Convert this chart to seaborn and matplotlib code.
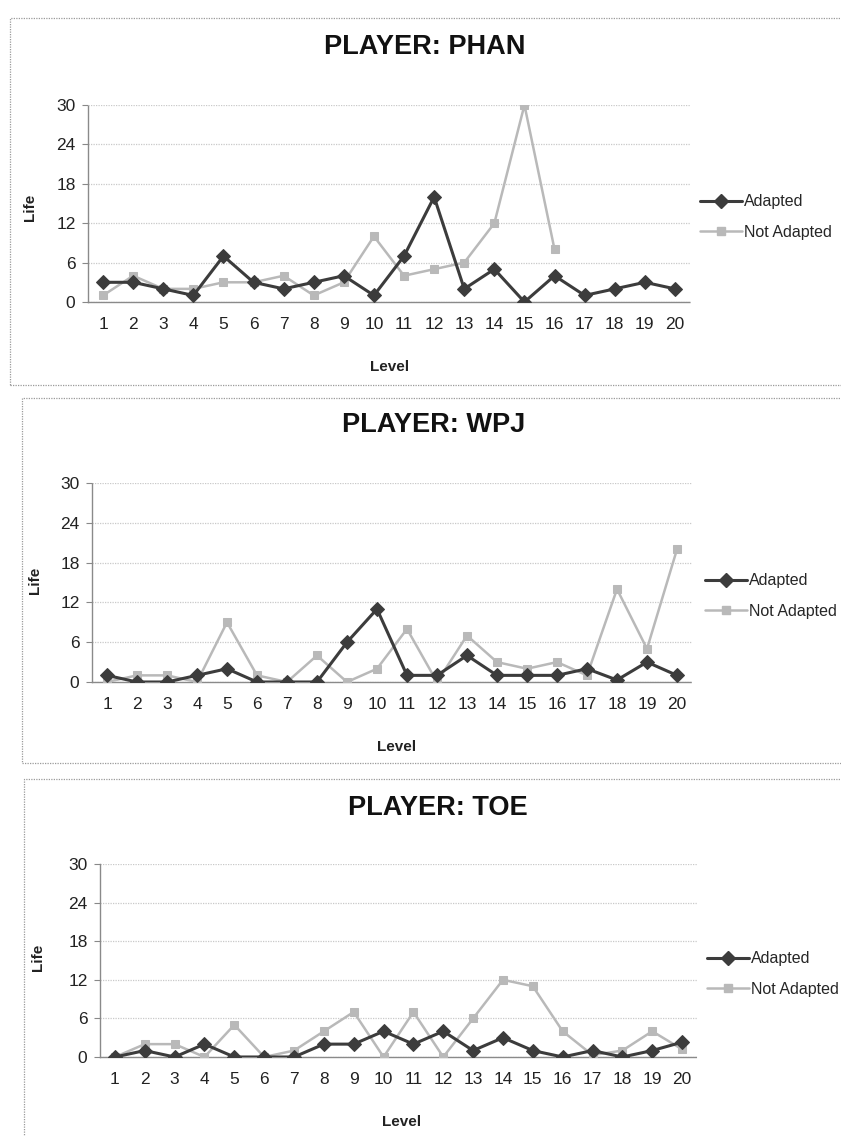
import numpy as np
import pandas as pd
import matplotlib
matplotlib.use("Agg")
import matplotlib.pyplot as plt
from matplotlib import font_manager
from matplotlib.lines import Line2D
from matplotlib.patches import Rectangle
import seaborn as sns

# ---- data -------------------------------------------------------------
levels = list(range(1, 21))
series_names = ["Adapted", "Not Adapted"]
players = ["PHAN", "WPJ", "TOE"]

phan_adapted = [3, 3, 2, 1, 7, 3, 2, 3, 4, 1, 7, 16, 2, 5, 0, 4, 1, 2, 3, 2]
phan_not_adapted = [1, 4, 2, 2, 3, 3, 4, 1, 3, 10, 4, 5, 6, 12, 30, 8,
                    np.nan, np.nan, np.nan, np.nan]

wpj_adapted = [1, 0, 0, 1, 2, 0, 0, 0, 6, 11, 1, 1, 4, 1, 1, 1, 2, 0.3, 3, 1]
wpj_not_adapted = [0, 1, 1, 0, 9, 1, 0, 4, 0, 2, 8, 0, 7, 3, 2, 3, 1, 14, 5, 20]

toe_adapted = [0, 1, 0, 2, 0, 0, 0, 2, 2, 4, 2, 4, 1, 3, 1, 0, 1, 0, 1, 2.3]
toe_not_adapted = [0, 2, 2, 0, 5, 0, 1, 4, 7, 0, 7, 0, 6, 12, 11, 4, 0.3, 1, 4, 1.2]

y_ticks = [0, 6, 12, 18, 24, 30]

# ---- styling ----------------------------------------------------------
sns.set_theme(style="white")


def pick_font(candidates):
    names = {f.name for f in font_manager.fontManager.ttflist}
    for c in candidates:
        if c in names:
            return c
    return "DejaVu Sans"


body_font = pick_font(["Liberation Sans Narrow", "Liberation Sans", "DejaVu Sans"])
plt.rcParams["font.family"] = [body_font, "DejaVu Sans"]

DARK = "#3c3c3c"
LIGHT = "#b9b9b9"
GRID = "#c9c9c9"
BORDER = "#9a9a9a"

W, H = 841, 1136
fig = plt.figure(figsize=(W / 100, H / 100), dpi=100)
fig.patch.set_facecolor("white")


def fig_rect(x0, y0, x1, y1):
    return [x0 / W, 1 - y1 / H, (x1 - x0) / W, (y1 - y0) / H]


# pixel layout of each chart block
panels = [
    dict(name="PHAN", data=(phan_adapted, phan_not_adapted),
         border=(10, 18, 900, 385), plot=(88, 105, 690, 302),
         title=(425, 47), level=(390, 367), life=(30, 207), legend=(700, 217)),
    dict(name="WPJ", data=(wpj_adapted, wpj_not_adapted),
         border=(22, 398, 900, 763), plot=(92, 483, 692, 682),
         title=(434, 425), level=(397, 747), life=(35, 580), legend=(705, 596)),
    dict(name="TOE", data=(toe_adapted, toe_not_adapted),
         border=(24, 779, 900, 1180), plot=(100, 864, 697, 1057),
         title=(438, 808), level=(402, 1122), life=(38, 957), legend=(707, 974)),
]

for p in panels:
    bx0, by0, bx1, by1 = p["border"]
    fig.patches.append(Rectangle((bx0 / W, 1 - by1 / H), (bx1 - bx0) / W,
                                 (by1 - by0) / H, transform=fig.transFigure,
                                 fill=False, edgecolor=BORDER, linewidth=0.9,
                                 linestyle=(0, (1, 1)), zorder=0))

    px0, py0, px1, py1 = p["plot"]
    ax = fig.add_axes(fig_rect(px0, py0, px1, py1))
    ax.set_facecolor("none")

    adapted, not_adapted = p["data"]
    df = pd.DataFrame({
        "Level": levels * 2,
        "Life": list(adapted) + list(not_adapted),
        "Series": [series_names[0]] * 20 + [series_names[1]] * 20,
    })

    sns.lineplot(data=df[df["Series"] == "Not Adapted"], x="Level", y="Life",
                 ax=ax, color=LIGHT, linewidth=1.8, marker="s", markersize=6,
                 markeredgecolor=LIGHT, zorder=3, legend=False)
    sns.lineplot(data=df[df["Series"] == "Adapted"], x="Level", y="Life",
                 ax=ax, color=DARK, linewidth=2.2, marker="D", markersize=7.5,
                 markeredgecolor=DARK, zorder=4, legend=False)

    ax.set_xlim(0.5, 20.5)
    ax.set_ylim(0, 30)
    ax.set_xticks(levels)
    ax.set_yticks(y_ticks)
    ax.tick_params(axis="x", length=0, pad=11, labelsize=12.5, colors="#222222")
    ax.tick_params(axis="y", length=4, width=0.8, color="#888888", pad=5,
                   labelsize=12.5, colors="#222222", left=True)
    ax.yaxis.grid(True, color=GRID, linewidth=0.9, linestyle=(0, (1, 1)))
    ax.xaxis.grid(False)
    for side in ("top", "right"):
        ax.spines[side].set_visible(False)
    for side in ("left", "bottom"):
        ax.spines[side].set_color("#8a8a8a")
        ax.spines[side].set_linewidth(1.0)
        ax.spines[side].set_linestyle((0, (1, 1)))

    # axis titles
    ax.set_xlabel("Level", fontsize=11, fontweight="bold", color="#222222")
    ax.set_ylabel("Life", fontsize=11, fontweight="bold", color="#222222")
    ax.xaxis.label.set_va("center")
    ax.yaxis.label.set_va("center")
    lx, ly = p["level"]
    ax.xaxis.set_label_coords((lx - px0) / (px1 - px0), (py1 - ly) / (py1 - py0))
    fx, fy = p["life"]
    ax.yaxis.set_label_coords((fx - px0) / (px1 - px0), (py1 - fy) / (py1 - py0))

    tx, ty = p["title"]
    fig.text(tx / W, 1 - ty / H, f"PLAYER: {p['name']}", ha="center", va="center",
             fontsize=19.5, fontweight="bold", color="#111111")

    handles = [
        Line2D([], [], color=DARK, linewidth=2.2, marker="D", markersize=7),
        Line2D([], [], color=LIGHT, linewidth=1.8, marker="s", markersize=6),
    ]
    gx, gy = p["legend"]
    ax.legend(handles, series_names, loc="center left",
              bbox_to_anchor=(gx / W, 1 - gy / H), bbox_transform=fig.transFigure,
              frameon=False, fontsize=11.5, handlelength=2.6, handletextpad=0.15,
              labelspacing=0.95, borderpad=0, borderaxespad=0)

fig.savefig("out.png", dpi=100, facecolor="white")
